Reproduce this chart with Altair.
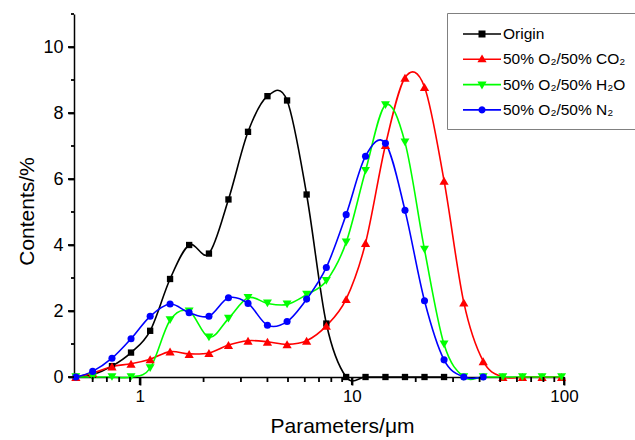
import altair as alt
import pandas as pd

# ---- data ----
particle_size_um = [0.50, 0.60, 0.74, 0.91, 1.12, 1.39, 1.71, 2.12, 2.62, 3.24, 4.00, 4.95,
                    6.12, 7.58, 9.40, 11.6, 14.4, 17.8, 22.0, 27.2, 33.7, 41.6, 51.5, 63.7,
                    78.8, 97.4]

origin = [0, 0.07, 0.33, 0.74, 1.40, 2.97, 4.00, 3.74, 5.38, 7.43, 8.51, 8.38, 5.53, 1.62,
          0, 0, 0, 0, 0, 0]
co2 = [0, 0.12, 0.32, 0.40, 0.54, 0.77, 0.70, 0.73, 0.97, 1.10, 1.07, 0.99, 1.10, 1.55,
       2.36, 4.06, 7.03, 9.07, 8.79, 5.95, 2.26, 0.48, 0, 0, 0, 0]
h2o = [0, 0, 0, 0, 0.27, 1.72, 1.99, 1.20, 1.77, 2.40, 2.23, 2.20, 2.50, 2.91,
       4.08, 6.25, 8.24, 7.11, 3.86, 0.99, 0, 0, 0, 0, 0, 0]
n2 = [0, 0.17, 0.57, 1.16, 1.84, 2.21, 1.95, 1.84, 2.40, 2.23, 1.57, 1.68, 2.36, 3.32,
      4.92, 6.69, 7.08, 5.05, 2.31, 0.52, 0, 0]

names = ["Origin", "50% O₂/50% CO₂", "50% O₂/50% H₂O", "50% O₂/50% N₂"]
colors = ["#000000", "#ff0000", "#00ff00", "#0000ff"]
shapes = ["square", "triangle-up", "triangle-down", "circle"]
marker_sizes = [40, 85, 80, 50]

x_major = [1, 10, 100]
x_minor = [0.6, 0.7, 0.8, 0.9, 2, 3, 4, 5, 6, 7, 8, 9, 20, 30, 40, 50, 60, 70, 80, 90]
y_major = [0, 2, 4, 6, 8, 10]
y_minor = [1, 3, 5, 7, 9, 11]

# legend symbols: line segment + marker (custom SVG paths)
legend_paths = [
    "M-0.5,0H3.3M1.13,-0.27H1.67V0.27H1.13Z",
    "M-0.5,0H3.3M1.4,-0.33L1.72,0.22H1.08Z",
    "M-0.5,0H3.3M1.4,0.33L1.72,-0.22H1.08Z",
    "M-0.5,0H3.3M1.68,0L1.64,0.14L1.54,0.24L1.4,0.28L1.26,0.24L1.16,0.14L1.12,0"
    "L1.16,-0.14L1.26,-0.24L1.4,-0.28L1.54,-0.24L1.64,-0.14Z",
]

rows = []
for i, (name, vals) in enumerate(zip(names, [origin, co2, h2o, n2])):
    for s, v in zip(particle_size_um, vals):
        rows.append({"series": name, "size": s, "content": v, "k": i})
df = pd.DataFrame(rows)

xt_major = pd.DataFrame({"v": x_major})
xt_minor = pd.DataFrame({"v": x_minor})
yt_major = pd.DataFrame({"v": y_major})
yt_minor = pd.DataFrame({"v": y_minor})

FONT = "Liberation Sans"

x_axis = alt.Axis(
    values=x_major, orient="bottom", ticks=True, tickSize=8, tickWidth=1.8, tickColor="black",
    title="Parameters/μm", titleFont=FONT, titleFontSize=21, titleFontWeight="normal",
    titleX=268, titleY=55, titleAlign="center", titleBaseline="alphabetic", titleColor="black",
    labelFont=FONT, labelFontSize=17, labelPadding=3, labelColor="black", labelFlush=False,
    grid=False, domainColor="black", domainWidth=1.5,
)
y_axis = alt.Axis(
    values=y_major, orient="left", ticks=True, tickSize=6, tickWidth=1.8, tickColor="black",
    title="Contents/%", titleFont=FONT, titleFontSize=21, titleFontWeight="normal",
    titleX=-47, titleY=197, titleAngle=270, titleAlign="center", titleBaseline="middle",
    titleColor="black",
    labelFont=FONT, labelFontSize=18, labelPadding=5, labelColor="black", labelFlush=False,
    grid=False, domainColor="black", domainWidth=1.5,
)

x_scale = alt.Scale(type="log", domain=[0.49, 100], nice=False)
y_scale = alt.Scale(domain=[0, 11], nice=False)

leg = alt.Legend(
    title=None, orient="none", legendX=373, legendY=-1,
    fillColor="white", strokeColor="#808080", padding=10,
    labelFont=FONT, labelFontSize=15.5, labelColor="black", labelOffset=24,
    symbolSize=400, symbolStrokeWidth=1.6, symbolOpacity=1, rowPadding=5.3, labelLimit=300,
)

base = alt.Chart(df)

lines = base.mark_line(interpolate="cardinal", strokeWidth=1.6, clip=False).encode(
    x=alt.X("size:Q", scale=x_scale, axis=x_axis),
    y=alt.Y("content:Q", scale=y_scale, axis=y_axis),
    color=alt.Color("series:N", scale=alt.Scale(domain=names, range=colors), legend=leg),
    order=alt.Order("size:Q"),
)

point_layers = []
for name, col, shp, sz in zip(names, colors, shapes, marker_sizes):
    point_layers.append(
        base.transform_filter(alt.datum.series == name)
        .mark_point(filled=True, shape=shp, size=sz, color=col, opacity=1, clip=False)
        .encode(x=alt.X("size:Q", scale=x_scale), y=alt.Y("content:Q", scale=y_scale))
    )

# tick marks (axis decoration) drawn from the tick value arrays through the scales
x_ticks_major = alt.Chart(xt_major).mark_tick(
    color="black", opacity=1, orient="vertical", size=8, thickness=1.8
).encode(x=alt.X("v:Q", scale=x_scale), y=alt.value(367))
x_ticks_minor = alt.Chart(xt_minor).mark_tick(
    color="black", opacity=1, orient="vertical", size=5, thickness=1.8
).encode(x=alt.X("v:Q", scale=x_scale), y=alt.value(365.5))
y_ticks_major = alt.Chart(yt_major).mark_tick(
    color="black", opacity=1, orient="horizontal", size=6, thickness=1.8
).encode(y=alt.Y("v:Q", scale=y_scale), x=alt.value(-3))
y_ticks_minor = alt.Chart(yt_minor).mark_tick(
    color="black", opacity=1, orient="horizontal", size=3, thickness=1.8
).encode(y=alt.Y("v:Q", scale=y_scale), x=alt.value(-1.5))

legend_layer = base.transform_filter(alt.datum.size == particle_size_um[-1]).mark_point(
    filled=True, size=400, strokeWidth=1.6, opacity=0
).encode(
    x=alt.X("size:Q", scale=x_scale), y=alt.Y("content:Q", scale=y_scale),
    fill=alt.Fill("series:N", scale=alt.Scale(domain=names, range=colors), legend=leg),
    stroke=alt.Stroke("series:N", scale=alt.Scale(domain=names, range=colors), legend=leg),
    shape=alt.Shape("series:N", scale=alt.Scale(domain=names, range=legend_paths), legend=leg),
)

chart = alt.layer(lines, *point_layers, x_ticks_major, x_ticks_minor, y_ticks_major,
                  y_ticks_minor, legend_layer).properties(
    width=490, height=363,
    autosize=alt.AutoSizeParams(type="none"),
    padding={"left": 74, "top": 14, "right": 71, "bottom": 63},
    background="white",
).configure_view(stroke=None)

chart.save("out.html", embed_options={"renderer": "svg", "actions": False})
